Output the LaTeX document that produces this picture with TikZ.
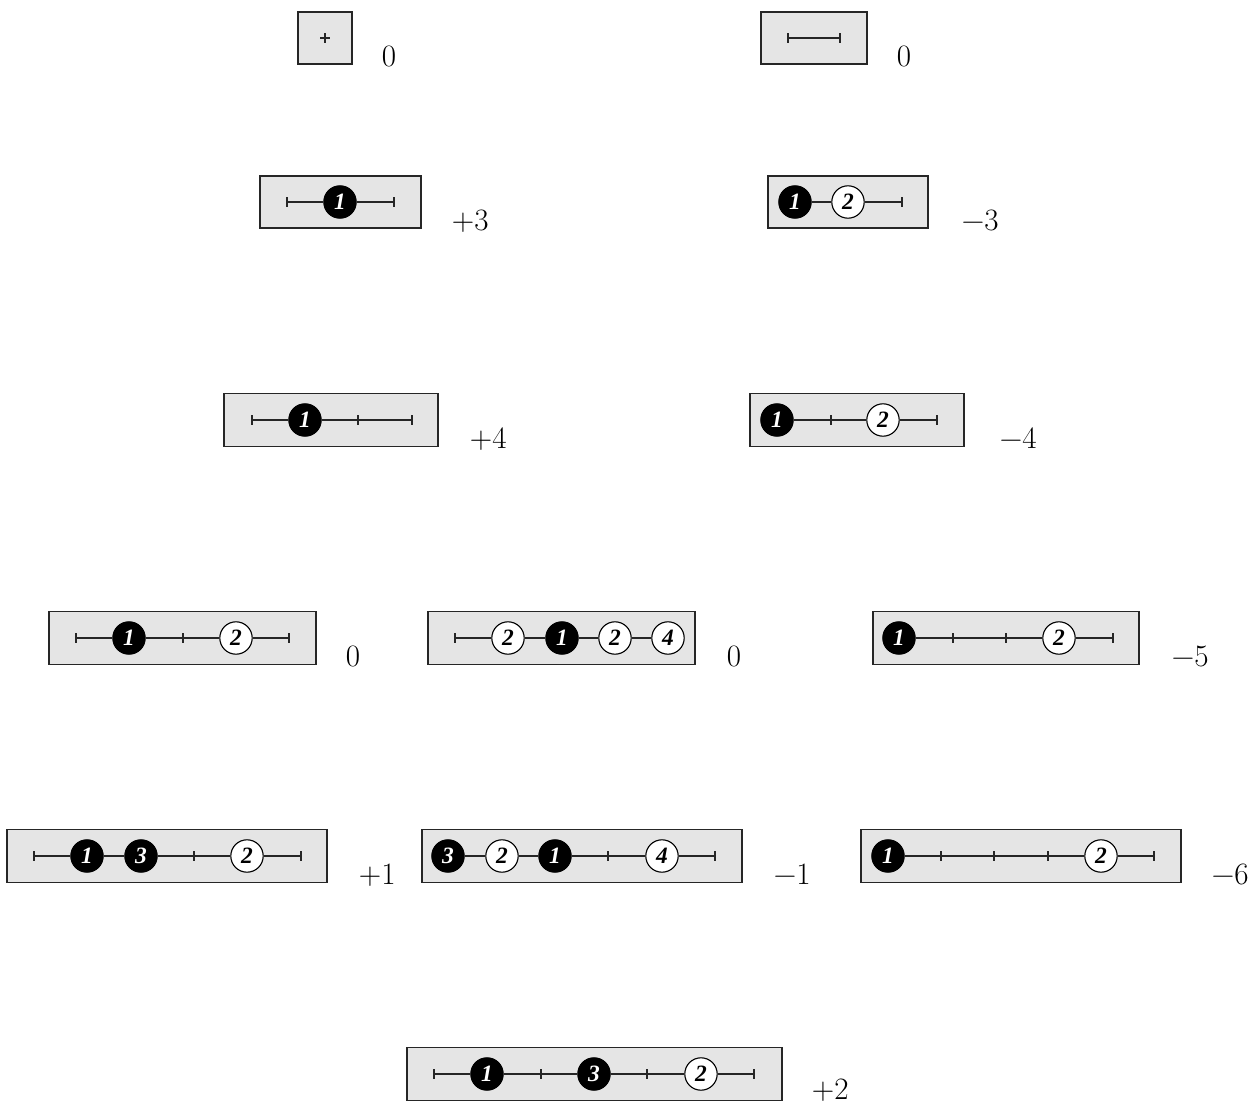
\documentclass[tikz,border=0pt]{standalone}
\usepackage{fontspec}
\newfontfamily\circfont{Liberation Serif}
\newcommand{\cfont}{\circfont\bfseries\itshape\fontsize{12.5}{12.5}\selectfont}
\newcommand{\lfont}{\fontsize{16.6}{20}\selectfont}
\tikzset{
  box/.style={draw=black!85, fill=gray!20, line width=0.6pt},
  seg/.style={draw=black!85, line width=0.55pt},
  bk/.style={circle, draw=black, fill=black, text=white, minimum size=17.3pt, inner sep=0pt, line width=0.6pt, font=\cfont},
  wt/.style={circle, draw=black, fill=white, text=black, minimum size=17.3pt, inner sep=0pt, line width=0.6pt, font=\cfont},
  lab/.style={anchor=base west, inner sep=0pt, font=\lfont},
}
\newcommand{\tk}[1]{\draw[seg] (#1) ++(0,-5) -- ++(0,10);}
\begin{document}
\begin{tikzpicture}[x=0.534pt, y=-0.534pt]
\useasboundingbox (0,0) rectangle (1257,1104);
% ---------- row 1
\draw[box] (298,12) rectangle (352,64);
\coordinate (a1) at (325,38);
\draw[seg] (a1) ++(-5,0) -- ++(10,0);
\draw[seg] (a1) ++(0,-5) -- ++(0,10);
\node[lab] (la) at (381.5,66) {0};
\draw[box] (761,12) rectangle (867,64);
\coordinate (b1) at (788,38); \coordinate (b2) at (840,38);
\draw[seg] (b1) -- (b2); \tk{b1} \tk{b2}
\node[lab] (lb) at (896.5,66) {0};
% ---------- row 2
\draw[box] (260,176) rectangle (421,228);
\coordinate (c1) at (287,202); \node[bk] (c2) at (340,202) {1}; \coordinate (c3) at (394,202);
\draw[seg] (c1) -- (c2); \draw[seg] (c2) -- (c3); \tk{c1} \tk{c3}
\node[lab] (lc) at (451.5,230) {+3};
\draw[box] (768,176) rectangle (928,228);
\node[bk] (d1) at (795,202) {1}; \node[wt] (d2) at (848,202) {2}; \coordinate (d3) at (902,202);
\draw[seg] (d1) -- (d2); \draw[seg] (d2) -- (d3); \tk{d3}
\node[lab] (ld) at (961.5,230) {−3};
% ---------- row 3
\draw[box] (224,393.5) rectangle (438,446.5);
\coordinate (e1) at (252,420); \node[bk] (e2) at (305,420) {1}; \coordinate (e3) at (358,420); \coordinate (e4) at (412,420);
\draw[seg] (e1) -- (e2); \draw[seg] (e2) -- (e3); \draw[seg] (e3) -- (e4); \tk{e1} \tk{e3} \tk{e4}
\node[lab] (le) at (469.5,448) {+4};
\draw[box] (750,393.5) rectangle (964,446.5);
\node[bk] (f1) at (777,420) {1}; \coordinate (f2) at (831,420); \node[wt] (f3) at (883,420) {2}; \coordinate (f4) at (937,420);
\draw[seg] (f1) -- (f2); \draw[seg] (f2) -- (f3); \draw[seg] (f3) -- (f4); \tk{f2} \tk{f4}
\node[lab] (lf) at (999.5,448) {−4};
% ---------- row 4
\draw[box] (49,611.5) rectangle (316,664.5);
\coordinate (g1) at (76,638); \node[bk] (g2) at (129,638) {1}; \coordinate (g3) at (183,638); \node[wt] (g4) at (236,638) {2}; \coordinate (g5) at (289,638);
\draw[seg] (g1) -- (g2); \draw[seg] (g2) -- (g3); \draw[seg] (g3) -- (g4); \draw[seg] (g4) -- (g5); \tk{g1} \tk{g3} \tk{g5}
\node[lab] (lg) at (345.5,666) {0};
\draw[box] (428,611.5) rectangle (695,664.5);
\coordinate (h1) at (455,638); \node[wt] (h2) at (508,638) {2}; \node[bk] (h3) at (562,638) {1}; \node[wt] (h4) at (615,638) {2}; \node[wt] (h5) at (668,638) {4};
\draw[seg] (h1) -- (h2); \draw[seg] (h2) -- (h3); \draw[seg] (h3) -- (h4); \draw[seg] (h4) -- (h5); \tk{h1}
\node[lab] (lh) at (726.5,666) {0};
\draw[box] (873,611.5) rectangle (1139,664.5);
\node[bk] (i1) at (899,638) {1}; \coordinate (i2) at (953,638); \coordinate (i3) at (1006,638); \node[wt] (i4) at (1059,638) {2}; \coordinate (i5) at (1113,638);
\draw[seg] (i1) -- (i2); \draw[seg] (i2) -- (i3); \draw[seg] (i3) -- (i4); \draw[seg] (i4) -- (i5); \tk{i2} \tk{i3} \tk{i5}
\node[lab] (li) at (1171.5,666) {−5};
% ---------- row 5
\draw[box] (7,829.5) rectangle (327,882.5);
\coordinate (j1) at (34,856); \node[bk] (j2) at (87,856) {1}; \node[bk] (j3) at (141,856) {3}; \coordinate (j4) at (194,856); \node[wt] (j5) at (247,856) {2}; \coordinate (j6) at (301,856);
\draw[seg] (j1) -- (j2); \draw[seg] (j2) -- (j3); \draw[seg] (j3) -- (j4); \draw[seg] (j4) -- (j5); \draw[seg] (j5) -- (j6); \tk{j1} \tk{j4} \tk{j6}
\node[lab] (lj) at (358.5,884) {+1};
\draw[box] (422,829.5) rectangle (742,882.5);
\node[bk] (k1) at (448,856) {3}; \node[wt] (k2) at (502,856) {2}; \node[bk] (k3) at (555,856) {1}; \coordinate (k4) at (608,856); \node[wt] (k5) at (662,856) {4}; \coordinate (k6) at (715,856);
\draw[seg] (k1) -- (k2); \draw[seg] (k2) -- (k3); \draw[seg] (k3) -- (k4); \draw[seg] (k4) -- (k5); \draw[seg] (k5) -- (k6); \tk{k4} \tk{k6}
\node[lab] (lk) at (773.5,884) {−1};
\draw[box] (861,829.5) rectangle (1181,882.5);
\node[bk] (m1) at (888,856) {1}; \coordinate (m2) at (941,856); \coordinate (m3) at (994,856); \coordinate (m4) at (1048,856); \node[wt] (m5) at (1101,856) {2}; \coordinate (m6) at (1154,856);
\draw[seg] (m1) -- (m2); \draw[seg] (m2) -- (m3); \draw[seg] (m3) -- (m4); \draw[seg] (m4) -- (m5); \draw[seg] (m5) -- (m6); \tk{m2} \tk{m3} \tk{m4} \tk{m6}
\node[lab] (lm) at (1211.5,884) {−6};
% ---------- row 6
\draw[box] (407,1047.5) rectangle (782,1100.5);
\coordinate (n1) at (434,1074); \node[bk] (n2) at (487,1074) {1}; \coordinate (n3) at (541,1074); \node[bk] (n4) at (594,1074) {3}; \coordinate (n5) at (647,1074); \node[wt] (n6) at (701,1074) {2}; \coordinate (n7) at (754,1074);
\draw[seg] (n1) -- (n2); \draw[seg] (n2) -- (n3); \draw[seg] (n3) -- (n4); \draw[seg] (n4) -- (n5); \draw[seg] (n5) -- (n6); \draw[seg] (n6) -- (n7); \tk{n1} \tk{n3} \tk{n5} \tk{n7}
\node[lab] (ln) at (811.5,1099) {+2};
\end{tikzpicture}
\end{document}
